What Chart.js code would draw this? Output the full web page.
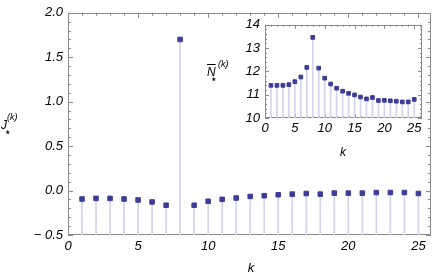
<!DOCTYPE html>
<html>
<head>
<meta charset="utf-8">
<script src="https://cdn.jsdelivr.net/npm/chart.js@4/dist/chart.umd.min.js"></script>
<style>
  body { margin: 0; background: #fff; }
  #wrap { position: relative; width: 436px; height: 275px; font-family: "Liberation Sans", Arial, sans-serif; font-style: italic; color: #000; }
  #main { position: absolute; left: 0; top: 0; }
  #inset { position: absolute; left: 225px; top: 12px; }
  .lbl { position: absolute; white-space: nowrap; line-height: 1; }
  .estrela { font-family: "DejaVu Sans", sans-serif; font-style: normal; }
</style>
</head>
<body>
<div id="wrap">
  <canvas id="main" width="436" height="275"></canvas>
  <canvas id="inset" width="205" height="150"></canvas>

  <!-- titulo eixo y principal: J_*^(k) -->
  <span class="lbl" style="left:1px;top:119px;font-size:12px">J</span>
  <span class="lbl" style="left:7px;top:113px;font-size:9px">(k)</span>
  <span class="lbl estrela" style="left:4px;top:126px;font-size:12px">⋆</span>
  <span class="lbl" style="left:251px;top:261px;font-size:13px;transform:translateX(-50%)">k</span>

  <!-- titulo do inset: N-barra_*^(k) -->
  <span class="lbl" style="left:207px;top:66px;font-size:12px;text-decoration:overline">N</span>
  <span class="lbl" style="left:218px;top:60px;font-size:9px">(k)</span>
  <span class="lbl estrela" style="left:210px;top:73px;font-size:12px">⋆</span>
  <span class="lbl" style="left:343px;top:146px;font-size:12px;transform:translateX(-50%)">k</span>
</div>

<script>
// dados
const ks = [1, 2, 3, 4, 5, 6, 7, 8, 9, 10, 11, 12, 13, 14, 15, 16, 17, 18, 19, 20, 21, 22, 23, 24, 25];
const valoresJ = [-0.095, -0.088, -0.088, -0.095, -0.106, -0.128, -0.165, 1.70, -0.165, -0.12,
  -0.099, -0.084, -0.066, -0.058, -0.047, -0.040, -0.033, -0.040, -0.029, -0.029,
  -0.029, -0.022, -0.022, -0.022, -0.033];
const valoresN = [11.40, 11.40, 11.40, 11.43, 11.56, 11.76, 12.17, 13.46, 12.14, 11.71,
  11.46, 11.28, 11.15, 11.06, 10.99, 10.90, 10.82, 10.88, 10.75, 10.76,
  10.74, 10.72, 10.69, 10.69, 10.80];
const ticksXPrincipal = [0, 5, 10, 15, 20, 25];
const ticksYPrincipal = [-0.5, 0, 0.5, 1.0, 1.5, 2.0];
const ticksXInset = [0, 5, 10, 15, 20, 25];
const ticksYInset = [10, 11, 12, 13, 14];

const corPonto = "#3d3d99";
const corHaste = "#d4d4ea";
const corMoldura = "#8a8a8a";

// moldura com ticks para dentro nos quatro lados
const molduraPlugin = {
  id: "moldura",
  beforeDatasetsDraw(chart, args, opts) {
    const { ctx, chartArea: a, scales } = chart;
    const sx = scales.x, sy = scales.y;
    ctx.save();
    ctx.strokeStyle = opts.cor;
    ctx.lineWidth = 1;
    ctx.strokeRect(Math.round(a.left) + 0.5, Math.round(a.top) + 0.5,
      Math.round(a.right - a.left) - 1, Math.round(a.bottom - a.top) - 1);
    ctx.beginPath();
    for (let v = sx.min; v <= sx.max + 1e-9; v += opts.passoX) {
      const px = Math.round(sx.getPixelForValue(v)) + 0.5;
      const major = Math.abs(v / opts.majorX - Math.round(v / opts.majorX)) < 1e-6;
      const len = major ? opts.major : opts.minor;
      ctx.moveTo(px, a.bottom); ctx.lineTo(px, a.bottom - len);
      ctx.moveTo(px, a.top); ctx.lineTo(px, a.top + len);
    }
    for (let v = sy.min; v <= sy.max + 1e-9; v += opts.passoY) {
      const py = Math.round(sy.getPixelForValue(v)) + 0.5;
      const major = Math.abs(v / opts.majorY - Math.round(v / opts.majorY)) < 1e-6;
      const len = major ? opts.major : opts.minor;
      ctx.moveTo(a.left, py); ctx.lineTo(a.left + len, py);
      ctx.moveTo(a.right, py); ctx.lineTo(a.right - len, py);
    }
    ctx.stroke();
    ctx.restore();
  }
};

function formatarY(v) {
  if (v < 0) return "\u2212 " + Math.abs(v).toFixed(1);
  return v.toFixed(1);
}

function criarGrafico(id, valores, base, cfg) {
  const ctx = document.getElementById(id).getContext("2d");
  const fonte = { family: "'Liberation Sans', Arial, sans-serif", style: "italic", size: cfg.fonte };

  new Chart(ctx, {
    type: "scatter",
    data: {
      datasets: [
        {
          type: "scatter",
          data: ks.map((k, i) => ({ x: k, y: valores[i] })),
          pointStyle: "rect",
          pointRadius: cfg.raio,
          backgroundColor: corPonto,
          borderColor: corPonto,
          borderWidth: 1
        },
        {
          type: "bar",
          data: ks.map((k, i) => ({ x: k, y: [base, valores[i]] })),
          backgroundColor: corHaste,
          borderWidth: 0,
          barThickness: 1
        }
      ]
    },
    options: {
      responsive: false,
      animation: false,
      layout: { padding: cfg.padding },
      plugins: {
        legend: { display: false },
        tooltip: { enabled: false },
        moldura: cfg.moldura
      },
      scales: {
        x: {
          type: "linear",
          min: cfg.xMin, max: cfg.xMax,
          offset: false,
          grid: { display: false, drawTicks: false },
          border: { display: false },
          ticks: { padding: cfg.padX, font: fonte, color: "#000", autoSkip: false, maxRotation: 0 },
          afterBuildTicks: s => { s.ticks = cfg.ticksX.map(v => ({ value: v })); },
          afterFit: s => { s.height = cfg.alturaX; }
        },
        y: {
          type: "linear",
          min: cfg.yMin, max: cfg.yMax,
          grid: { display: false, drawTicks: false },
          border: { display: false },
          ticks: { padding: cfg.padY, font: fonte, color: "#000", callback: cfg.formato },
          afterBuildTicks: s => { s.ticks = cfg.ticksY.map(v => ({ value: v })); },
          afterFit: s => { s.width = cfg.larguraY; }
        }
      }
    },
    plugins: [molduraPlugin]
  });
}

// grafico principal
criarGrafico("main", valoresJ, -0.5, {
  xMin: 0, xMax: 25.9, yMin: -0.5, yMax: 2.0,
  ticksX: ticksXPrincipal, ticksY: ticksYPrincipal,
  padding: { top: 7, right: 2, left: 0, bottom: 0 },
  larguraY: 68, alturaX: 40, padX: 4, padY: 5,
  fonte: 13, raio: 3.2,
  formato: v => formatarY(v),
  moldura: { cor: corMoldura, passoX: 1, majorX: 5, passoY: 0.1, majorY: 0.5, major: 5, minor: 3 }
});

// inset
criarGrafico("inset", valoresN, 10, {
  xMin: 0, xMax: 26.3, yMin: 10, yMax: 14,
  ticksX: ticksXInset, ticksY: ticksYInset,
  padding: { top: 10, right: 8, left: 0, bottom: 0 },
  larguraY: 40, alturaX: 44, padX: 3, padY: 5,
  fonte: 13, raio: 2.6,
  formato: v => String(v),
  moldura: { cor: corMoldura, passoX: 1, majorX: 5, passoY: 0.2, majorY: 1, major: 4, minor: 2 }
});
</script>
</body>
</html>
